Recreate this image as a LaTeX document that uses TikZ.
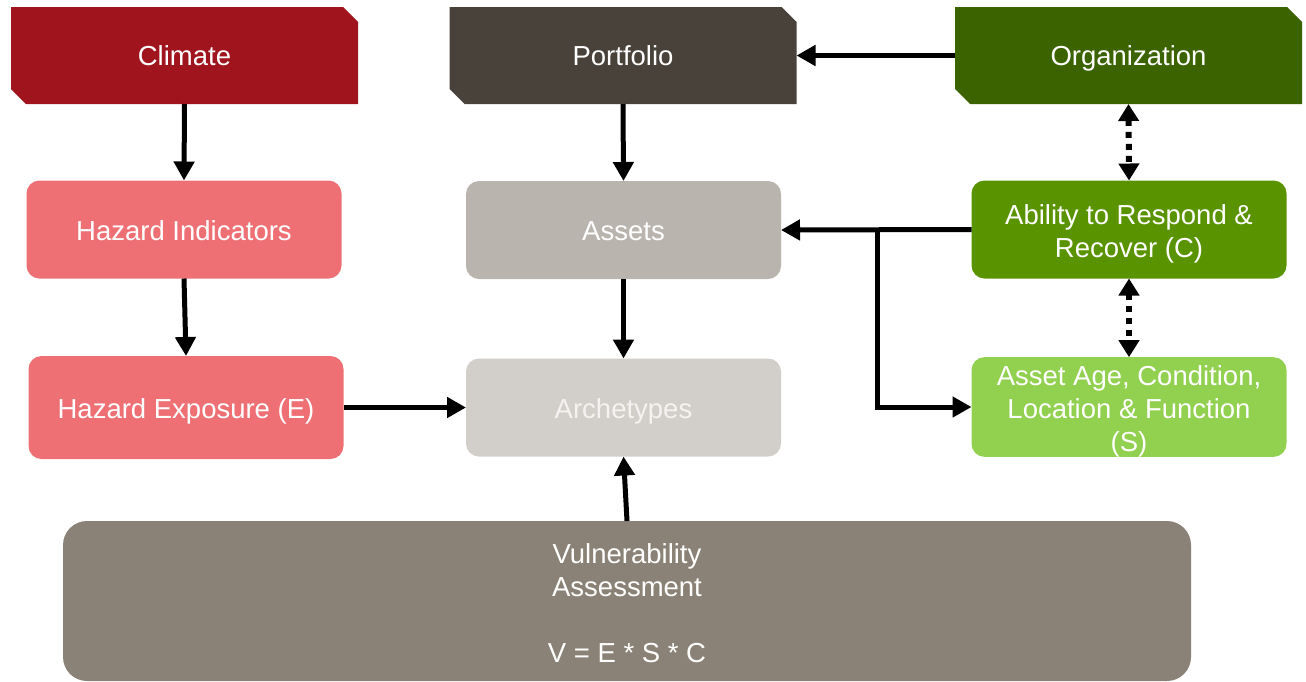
\documentclass[tikz,border=0pt]{standalone}
\usepackage{fontspec}
\setmainfont{Liberation Sans}
\usetikzlibrary{arrows.meta}
\definecolor{cred}{HTML}{A0141E}
\definecolor{cport}{HTML}{48423B}
\definecolor{corg}{HTML}{3B6300}
\definecolor{cpink}{HTML}{EE7075}
\definecolor{cassets}{HTML}{B9B5AE}
\definecolor{cabil}{HTML}{5A9300}
\definecolor{carch}{HTML}{D2CFCA}
\definecolor{cage}{HTML}{92D050}
\definecolor{cvul}{HTML}{8A8276}
\definecolor{carchtext}{HTML}{F4F3F1}
\newcommand{\firstline}[1]{\rule{0pt}{#1}}
\tikzset{
  base/.style={inner sep=0pt, outer sep=0pt, align=center, text=white,
    font=\fontsize{27.5}{33}\selectfont},
  oneline/.style={text height=#1, text depth=0pt},
  snipbox/.style={base, oneline=19.5pt, rectangle, minimum width=347pt, minimum height=97pt,
    path picture={\fill[#1] (path picture bounding box.north west)
      -- ([xshift=-15pt]path picture bounding box.north east)
      -- ([yshift=-15pt]path picture bounding box.north east)
      -- (path picture bounding box.south east)
      -- ([xshift=15pt]path picture bounding box.south west)
      -- ([yshift=15pt]path picture bounding box.south west) -- cycle;}},
  roundbox/.style={base, rectangle, rounded corners=13pt, fill=#1,
    minimum width=315pt, minimum height=98pt},
  arr/.style={line width=5pt, -{Triangle[length=19pt,width=20pt]}},
  dotarr/.style={line width=6pt, dash pattern=on 6pt off 6pt,
    {Triangle[length=17pt,width=20pt]}-{Triangle[length=17pt,width=20pt]}}
}
\begin{document}
\begin{tikzpicture}[x=1pt,y=-1pt]
\useasboundingbox (0,0) rectangle (1306,681);
\node[snipbox=cred] (cl) at (184.5,55.5) {Climate};
\node[snipbox=cport] (po) at (623,55.5) {Portfolio};
\node[snipbox=corg] (or) at (1128.5,55.5) {Organization};
\node[roundbox=cpink, oneline=21pt] (hi) at (184,229.5) {Hazard Indicators};
\node[roundbox=cassets, oneline=21pt] (as) at (623.5,230) {Assets};
\node[roundbox=cabil] (ab) at (1129,229.5) {\firstline{28pt}Ability to Respond \&\\Recover (C)};
\node[roundbox=cpink, oneline=21pt, minimum height=103pt] (he) at (186,407.5) {Hazard Exposure (E)};
\node[roundbox=carch, oneline=21pt, text=carchtext] (ar) at (623.5,407.5) {Archetypes};
\node[roundbox=cage] (ag) at (1129,407) {\firstline{28pt}Asset Age, Condition,\\Location \& Function\\(S)};
\node[base, rectangle, rounded corners=24pt, fill=cvul, minimum width=1128pt,
  minimum height=160pt] (vu) at (627,601) {\firstline{24pt}Vulnerability\\Assessment\\[33pt]V = E * S * C};
\draw[arr] (cl.south) -- (hi.north);
\draw[arr] (hi.south) -- (he.north);
\draw[arr] (po.south) -- (as.north);
\draw[arr] (or.west) -- (po.east);
\draw[dotarr] (or.south) -- (ab.north);
\draw[dotarr] (ab.south) -- (ag.north);
\draw[arr] (ab.west) -- (as.east);
\coordinate (br) at (877,230);
\draw[arr] (br) |- (ag.west);
\draw[arr] (as.south) -- (ar.north);
\draw[arr] (he.east) -- (ar.west);
\draw[arr] (vu.north) -- (ar.south);
\end{tikzpicture}
\end{document}
